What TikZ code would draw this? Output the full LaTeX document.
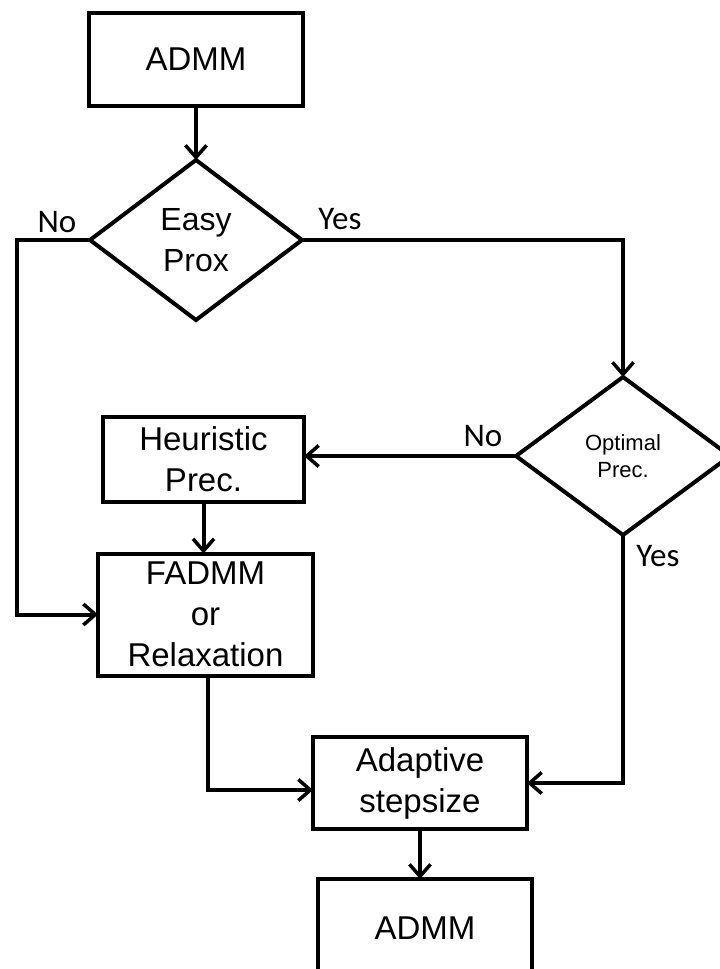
\documentclass[tikz,border=0pt]{standalone}
\usepackage{fontspec}
\setmainfont{Liberation Sans}
\newfontfamily\calib{Carlito}
\usetikzlibrary{shapes.geometric,arrows.meta}
\begin{document}
\begin{tikzpicture}[x=1pt,y=-1pt,
  box/.style={draw,line width=4pt,rectangle,inner sep=0pt,outer sep=0pt,align=center,font=\fontsize{33}{41}\selectfont},
  dia/.style={draw,line width=4pt,diamond,inner sep=0pt,outer sep=0pt,align=center,minimum width=212pt,minimum height=160pt},
  lab/.style={font=\calib\fontsize{33}{40}\selectfont,inner sep=0pt},
  conn/.style={line width=4pt,-{Straight Barb[length=12pt,width=21pt,line width=3.5pt]}}]
\useasboundingbox (0,0) rectangle (720,969);
\clip (0,0) rectangle (720,969);

\node[box,minimum width=214pt,minimum height=93pt] (admm1) at (196,59.5) {ADMM};
\node[dia,font=\fontsize{32}{41}\selectfont] (easy) at (196,240) {Easy\\Prox};
\node[dia,font=\fontsize{22}{27}\selectfont,minimum width=214pt,minimum height=158pt] (opt) at (623,456) {Optimal\\Prec.};
\node[box,minimum width=201pt,minimum height=85pt] (heur) at (203.5,459.5) {Heuristic\\Prec.};
\node[box,minimum width=215pt,minimum height=122pt] (fadmm) at (205.5,614.5) {FADMM\\or\\Relaxation};
\node[box,minimum width=214pt,minimum height=92pt] (adapt) at (420,783) {Adaptive\\stepsize};
\node[box,minimum width=214pt,minimum height=98pt] (admm2) at (425,928) {ADMM};

\node[lab] (no1) at (57,222) {No};
\node[lab] (yes1) at (340,219) {Yes};
\node[lab] (no2) at (483,436) {No};
\node[lab] (yes2) at (658,556) {Yes};

\coordinate (nl) at (17,240);

\draw[conn] (admm1.south) -- (easy.north);
\draw[conn] (easy.west) -- (nl) |- (fadmm.west);
\draw[conn] (easy.east) -| (opt.north);
\draw[conn] (opt.west) -- (opt.west -| heur.east);
\draw[conn] (heur.south) -- (heur.south |- fadmm.north);
\draw[conn] ([xshift=2.5pt]fadmm.south) |- ([yshift=-7pt]adapt.west);
\draw[conn] (opt.south) |- (adapt.east);
\draw[conn] (adapt.south) -- (adapt.south |- admm2.north);
\end{tikzpicture}
\end{document}
